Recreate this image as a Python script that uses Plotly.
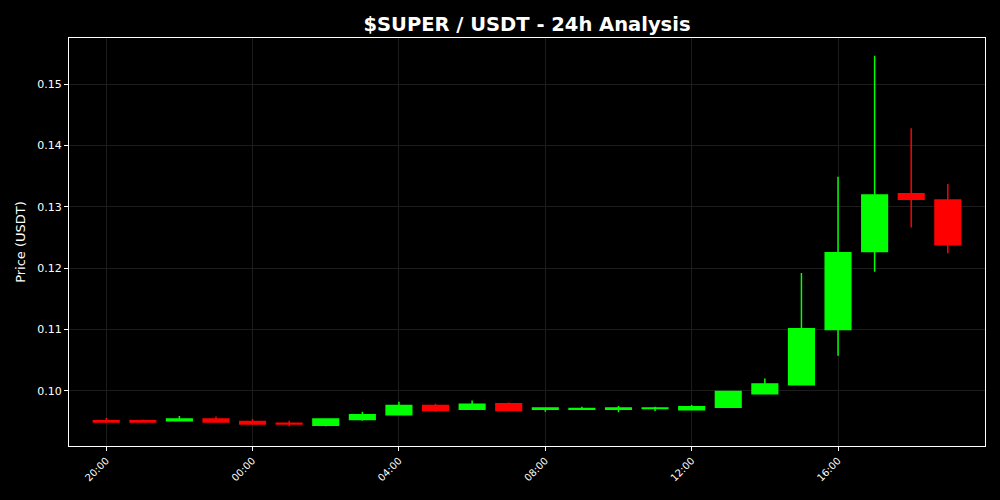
import pandas as pd
import plotly.graph_objects as go

# hourly candles, 20:00 -> 19:00 next day
times = pd.date_range("2024-01-01 20:00", periods=24, freq="h")

opens = [0.0951, 0.0951, 0.0951, 0.0954, 0.0950, 0.0947, 0.0944, 0.0953,
         0.0961, 0.0976, 0.0970, 0.0979, 0.0970, 0.0970, 0.0970, 0.0971,
         0.0969, 0.0973, 0.0995, 0.1010, 0.1100, 0.1227, 0.1321, 0.1311]
highs = [0.09555, 0.0953, 0.0959, 0.0958, 0.0954, 0.0951, 0.0955, 0.0966,
         0.0982, 0.0979, 0.0984, 0.0981, 0.0973, 0.0974, 0.0975, 0.0974,
         0.0977, 0.1000, 0.1020, 0.1192, 0.1349, 0.1546, 0.1428, 0.1337]
lows = [0.0948, 0.0949, 0.0950, 0.0948, 0.0945, 0.0942, 0.0942, 0.0951,
        0.0961, 0.0966, 0.0969, 0.0968, 0.0966, 0.0969, 0.0965, 0.0967,
        0.0969, 0.0972, 0.0995, 0.1010, 0.1057, 0.1194, 0.1266, 0.1224]
closes = [0.0949, 0.0949, 0.0954, 0.0949, 0.0946, 0.0946, 0.0954, 0.0961,
          0.0976, 0.0968, 0.0978, 0.0968, 0.0972, 0.0971, 0.0972, 0.0972,
          0.0974, 0.0999, 0.1011, 0.1101, 0.1225, 0.1319, 0.1312, 0.1238]

price_ticks = [0.10, 0.11, 0.12, 0.13, 0.14, 0.15]
time_ticks = times[::4]

UP = "#00ff00"
DOWN = "#ff0000"
GRID = "#1c1c1c"
FONT = "DejaVu Sans"

fig = go.Figure()

fig.add_trace(go.Candlestick(
    x=times,
    open=opens, high=highs, low=lows, close=closes,
    increasing=dict(line=dict(color=UP, width=1.5), fillcolor=UP),
    decreasing=dict(line=dict(color=DOWN, width=1.5), fillcolor=DOWN),
    showlegend=False,
))

pad = pd.Timedelta(minutes=61)

fig.update_layout(
    width=1000, height=500,
    paper_bgcolor="black",
    plot_bgcolor="black",
    font=dict(family=FONT, color="white", size=11),
    title=dict(
        text="<b>$SUPER / USDT - 24h Analysis</b>",
        x=0.527, xanchor="center", y=0.952, yanchor="middle",
        font=dict(size=19.5, color="white", family=FONT),
    ),
    margin=dict(l=69, r=15, t=38, b=54),
    boxgap=0.3, boxgroupgap=0,   # body ~0.7 of an hour wide
    showlegend=False,
)

fig.update_xaxes(
    type="date",
    range=[times[0] - pad, times[-1] + pad],
    rangeslider=dict(visible=False),
    tickvals=time_ticks,
    tickformat="%H:%M",
    tickangle=-45,
    tickfont=dict(size=10, color="white"),
    ticks="outside", ticklen=4, tickcolor="white",
    showgrid=True, gridcolor=GRID, gridwidth=1,
    showline=True, linecolor="white", linewidth=1, mirror=True,
    zeroline=False,
)

fig.update_yaxes(
    range=[0.0910, 0.1575],
    title=dict(text="Price (USDT)", font=dict(size=13, color="white"), standoff=8),
    tickvals=price_ticks,
    tickformat=".2f",
    tickfont=dict(size=11, color="white"),
    ticks="outside", ticklen=4, tickcolor="white",
    showgrid=True, gridcolor=GRID, gridwidth=1,
    showline=True, linecolor="white", linewidth=1, mirror=True,
    zeroline=False,
)

# drop the default page margin so the figure sits flush in the window
fig.write_html(
    "out.html",
    config={"displayModeBar": False},
    post_script="document.body.style.margin='0';document.body.style.background='black';",
)
